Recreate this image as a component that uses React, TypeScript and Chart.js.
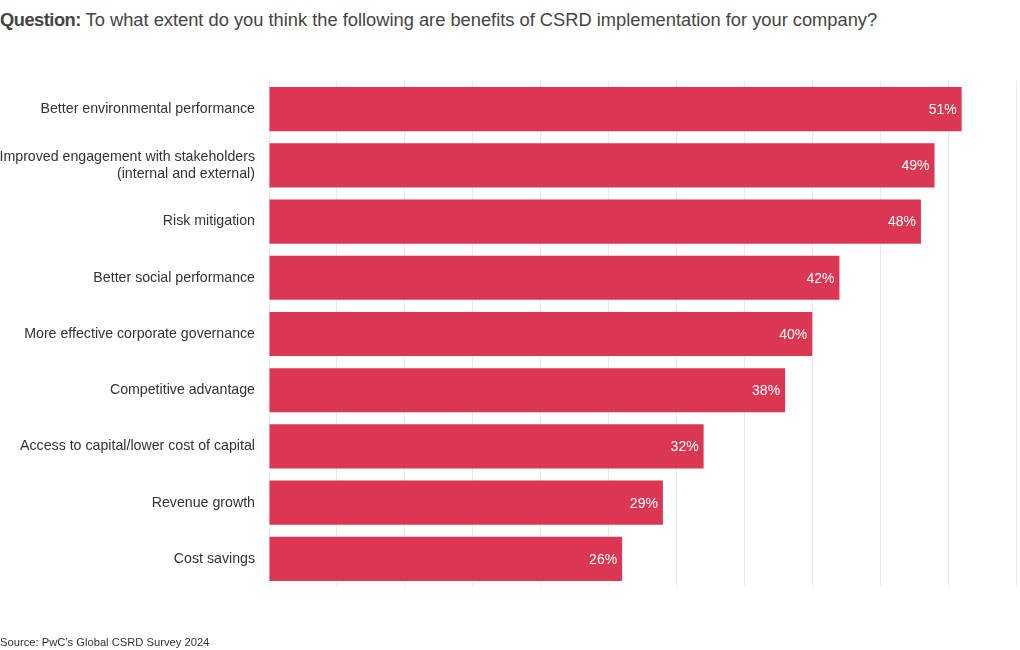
import React, { useEffect, useRef } from "react";
import { Chart, registerables } from "chart.js";

Chart.register(...registerables);

const categories: (string | string[])[] = [
  "Better environmental performance",
  ["Improved engagement with stakeholders", "(internal and external)"],
  "Risk mitigation",
  "Better social performance",
  "More effective corporate governance",
  "Competitive advantage",
  "Access to capital/lower cost of capital",
  "Revenue growth",
  "Cost savings",
];
const values = [51, 49, 48, 42, 40, 38, 32, 29, 26];
const xMax = 55;
const xStep = 5;
const titleBold = "Question:";
const titleRest = " To what extent do you think the following are benefits of CSRD implementation for your company?";
const source = "Source: PwC\u2019s Global CSRD Survey 2024";

const FONT = "'Liberation Sans', Arial, Helvetica, sans-serif";
const BAR = "#db3753";

const valueLabels = {
  id: "valueLabels",
  afterDatasetsDraw(chart: any) {
    const ctx = chart.ctx;
    const meta = chart.getDatasetMeta(0);
    ctx.save();
    ctx.font = `14px ${FONT}`;
    ctx.fillStyle = "#ffffff";
    ctx.textAlign = "right";
    ctx.textBaseline = "middle";
    meta.data.forEach((bar: any, i: number) => {
      ctx.fillText(`${values[i]}%`, bar.x - 5, bar.y + 1);
    });
    ctx.restore();
  },
};

export default function App() {
  const ref = useRef<HTMLCanvasElement>(null);
  useEffect(() => {
    if (!ref.current) return;
    const chart = new Chart(ref.current, {
      type: "bar",
      data: {
        labels: categories,
        datasets: [
          {
            data: values,
            backgroundColor: BAR,
            borderWidth: 0,
            barPercentage: 0.786,
            categoryPercentage: 1,
          },
        ],
      },
      options: {
        indexAxis: "y",
        animation: false,
        responsive: false,
        maintainAspectRatio: false,
        layout: { padding: { top: 81, bottom: 63, left: 0, right: 4 } },
        plugins: { legend: { display: false }, tooltip: { enabled: false } },
        scales: {
          x: {
            min: 0,
            max: xMax,
            ticks: { display: false, stepSize: xStep },
            grid: { color: "#ebebeb", drawTicks: false, lineWidth: 1 },
            border: { display: false },
          },
          y: {
            ticks: {
              color: "#333333",
              font: { family: FONT, size: 14.2 },
              padding: 14,
            },
            grid: { display: false, drawTicks: false },
            border: { display: false },
            afterFit: (axis: any) => {
              axis.width = 269;
            },
          },
        },
      },
      plugins: [valueLabels],
    });
    return () => chart.destroy();
  }, []);

  return (
    <div style={{ position: "fixed", left: 0, top: 0, width: 1020, height: 650, background: "#fff", fontFamily: FONT }}>
      <div style={{ position: "absolute", left: 0, top: 9, fontSize: 18.3, color: "#444", whiteSpace: "nowrap" }}>
        <span style={{ fontWeight: "bold", letterSpacing: -0.5 }}>{titleBold}</span>
        {titleRest}
      </div>
      <canvas ref={ref} width={1020} height={650} style={{ position: "absolute", left: 0, top: 0 }} />
      <div style={{ position: "absolute", left: 0, top: 636, fontSize: 11.2, color: "#333", whiteSpace: "nowrap" }}>
        {source}
      </div>
    </div>
  );
}
